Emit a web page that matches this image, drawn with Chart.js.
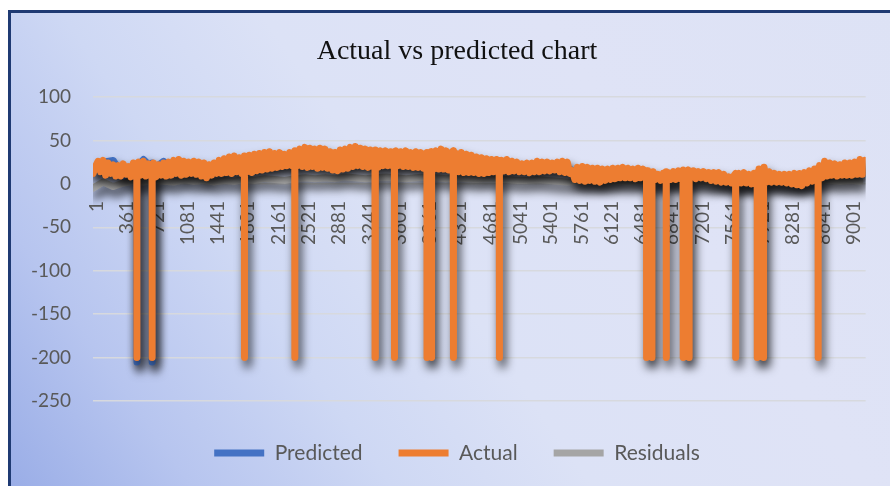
<!DOCTYPE html>
<html>
<head>
<meta charset="utf-8">
<script src="https://cdn.jsdelivr.net/npm/chart.js@4/dist/chart.umd.min.js"></script>
<style>
  html, body { margin: 0; padding: 0; background: #ffffff; }
  body { width: 890px; height: 486px; position: relative; overflow: hidden; }
  #frame {
    position: absolute; left: 8px; top: 10px; width: 900px; height: 500px;
    border-left: 3px solid #1f3a73; border-top: 3px solid #1f3a73;
    background: linear-gradient(55deg, #97abe6 0%, #b7c5ef 16%, #ced8f4 32%, #dce2f6 48%, #dfe3f6 70%, #dde2f5 100%);
  }
  #chart { position: absolute; left: 0; top: 0; }
</style>
</head>
<body>
<div id="frame"></div>
<canvas id="chart" width="890" height="486"></canvas>
<script>
// Row numbers shown on the horizontal axis
const xTickRows = [1, 361, 721, 1081, 1441, 1801, 2161, 2521, 2881, 3241, 3601, 3961, 4321,
  4681, 5041, 5401, 5761, 6121, 6481, 6841, 7201, 7561, 7921, 8281, 8641, 9001];
const lastRow = 9189;

// Actual: one reading every 30 rows, starting at row 1
const actualStep = 30;
const actualValues = [
  12, 20, 26, 14, 27, 10, 24, 12, 22, 9,
  21, 9, 23, 11, 20, 8, 24, 12, 25, 10,
  26, 9, 23, 12, 24, 8, 22, 10, 24, 9,
  25, 10, 27, 12, 28, 10, 26, 11, 25, 12,
  26, 11, 25, 9, 24, 7, 22, 10, 24, 12,
  27, 12, 29, 13, 31, 12, 32, 14, 30, 12,
  32, 14, 33, 13, 34, 15, 35, 16, 36, 17,
  37, 18, 35, 19, 36, 20, 34, 21, 36, 21,
  38, 21, 40, 20, 42, 19, 41, 20, 40, 18,
  41, 19, 40, 18, 37, 16, 36, 15, 39, 17,
  40, 18, 42, 20, 43, 21, 41, 20, 40, 19,
  39, 20, 39, 19, 38, 21, 38, 21, 37, 20,
  38, 21, 37, 20, 38, 20, 36, 19, 37, 19,
  36, 18, 35, 18, 37, 17, 38, 17, 40, 17,
  38, 16, 36, 15, 35, 14, 36, 13, 34, 13,
  33, 13, 31, 12, 30, 12, 29, 13, 28, 14,
  28, 14, 27, 15, 28, 14, 26, 15, 25, 14,
  23, 14, 24, 13, 24, 14, 26, 14, 25, 15,
  25, 15, 24, 16, 25, 14, 26, 13, 25, 12,
  15, 5, 19, 4, 20, 3, 19, 4, 18, 3,
  18, 2, 17, 4, 17, 5, 18, 6, 18, 7,
  19, 7, 18, 7, 17, 6, 18, 7, 17, 6,
  15, 6, 14, 5, 11, 4, 12, 4, 13, 5,
  14, 5, 15, 6, 16, 7, 16, 7, 15, 6,
  14, 7, 14, 6, 13, 4, 13, 3, 13, 2,
  11, 2, 8, 1, 9, 1, 12, 1, 13, 1,
  11, 0, 12, 1, 17, 1, 19, 2, 14, 2,
  12, 2, 11, 2, 11, 1, 11, 0, 12, -1,
  12, -2, 13, 1, 15, 3, 17, 4, 21, 7,
  26, 9, 24, 10, 23, 9, 22, 10, 24, 10,
  24, 10, 25, 11, 28, 11, 27
];
// Rows where the actual value drops out to -200, with the rows either side
const actualDropRows = [
  522, 523, 524,   703, 704, 705,   1802, 1803, 1804,   2400, 2401, 2402,
  3354, 3355, 3356,   3585, 3586, 3587,   3972, 3973, 4027, 4028,
  4284, 4285, 4286,   4833, 4834, 4835,   6583, 6584, 6647, 6648,
  6817, 6818, 6819,   7017, 7018, 7089, 7090,   7642, 7643, 7644,
  7899, 7900, 7974, 7975,   8623, 8624, 8625
];
const actualDropValues = [
  18, -200, 22,   20, -200, 12,   28, -200, 14,   33, -200, 20,
  38, -200, 22,   22, -200, 37,   36, -200, -200, 20,
  38, -200, 16,   27, -200, 14,   15, -200, -200, 8,
  14, -200, 6,   15, -200, -200, 7,   12, -200, 3,
  13, -200, -200, 2,   18, -200, 5
];

// Predicted: one reading every 120 rows, starting at row 1
const predictedStep = 120;
const predictedValues = [
  18, 25, 27, 9, 22, 28, 17, 26, 18, 19,
  18, 17, 16, 20, 22, 23, 24, 26, 27, 28,
  28, 30, 31, 30, 27, 28, 30, 30, 29, 29,
  29, 28, 28, 27, 27, 27, 25, 24, 23, 21,
  21, 20, 20, 19, 20, 20, 20, 19, 11, 11,
  10, 11, 12, 13, 12, 11, 9, 9, 10, 11,
  11, 10, 8, 6, 5, 7, 8, 8, 7, 6,
  6, 7, 12, 17, 17, 17, 18
];
const predictedDropRows = [522, 523, 524, 703, 704, 705];
const predictedDropValues = [22, -205, 20, 18, -205, 24];

// Residuals: one reading every 120 rows, starting at row 1
const residualStep = 120;
const residualValues = [
  -5, 2, -3, 1, 3, 2, 4, 3, 2, 5,
  3, 4, 2, 4, 3, 5, 4, 6, 5, 4,
  6, 7, 6, 7, 6, 8, 7, 6, 7, 8,
  7, 6, 7, 8, 7, 6, 7, 6, 5, 6,
  5, 5, 4, 4, 5, 4, 3, 2, 3, 2,
  3, 2, 3, 2, 3, 1, 2, 3, 2, 3,
  2, 1, 2, 1, 0, 2, 1, 2, 1, 0,
  1, 2, 3, 4, 3, 4, 3
];

// Merge evenly spaced readings with extra rows into {x, y} points sorted by row
function toPoints(step, values, extraRows, extraValues) {
  const pts = values.map((v, i) => ({ x: 1 + i * step, y: v }));
  (extraRows || []).forEach((r, i) => pts.push({ x: r, y: extraValues[i] }));
  return pts.sort((a, b) => a.x - b.x);
}

const COLORS = { predicted: '#4472C4', actual: '#ED7D31', residuals: '#A5A5A5' };
const TEXT = '#595959';
const FONT = 'Lato';

// Dark drop shadow beneath every series line
const lineShadow = {
  id: 'lineShadow',
  beforeDatasetDraw(chart) {
    const c = chart.ctx;
    c.save();
    c.shadowColor = 'rgba(0, 0, 0, 0.75)';
    c.shadowBlur = 10;
    c.shadowOffsetX = 3;
    c.shadowOffsetY = 7;
  },
  afterDatasetDraw(chart) {
    chart.ctx.restore();
  }
};

new Chart(document.getElementById('chart'), {
  type: 'line',
  data: {
    datasets: [
      {
        label: 'Predicted',
        data: toPoints(predictedStep, predictedValues, predictedDropRows, predictedDropValues),
        borderColor: COLORS.predicted, backgroundColor: COLORS.predicted,
        order: 1
      },
      {
        label: 'Actual',
        data: toPoints(actualStep, actualValues, actualDropRows, actualDropValues),
        borderColor: COLORS.actual, backgroundColor: COLORS.actual,
        order: 0
      },
      {
        label: 'Residuals',
        data: toPoints(residualStep, residualValues),
        borderColor: COLORS.residuals, backgroundColor: COLORS.residuals,
        order: 2
      }
    ]
  },
  options: {
    responsive: false,
    animation: false,
    events: [],
    layout: { padding: { left: 41, right: 17, top: 0, bottom: 12.5 } },
    elements: {
      point: { radius: 0, hoverRadius: 0 },
      line: { borderWidth: 7, tension: 0, borderJoinStyle: 'round', borderCapStyle: 'round', fill: false }
    },
    scales: {
      x: {
        type: 'linear',
        min: 1,
        max: lastRow,
        position: { y: 0 },
        z: 1,
        grid: { display: false, drawTicks: false },
        border: { display: false },
        afterBuildTicks(scale) {
          scale.ticks = xTickRows.map(v => ({ value: v }));
        },
        ticks: {
          autoSkip: false,
          minRotation: 90,
          maxRotation: 90,
          padding: 17,
          labelOffset: 4,
          color: TEXT,
          font: { family: FONT, size: 19 },
          callback: v => String(v)
        }
      },
      y: {
        min: -250,
        max: 100,
        afterFit(scale) {
          scale.width = 52;
          // let the longer labels run past the narrow axis box instead of clipping them
          scale._computeLabelArea = () => undefined;
        },
        grid: { color: '#d7d9de', lineWidth: 1.5, drawTicks: false },
        border: { display: false },
        ticks: {
          stepSize: 50,
          padding: 22,
          color: TEXT,
          font: { family: FONT, size: 19 }
        }
      }
    },
    plugins: {
      title: {
        display: true,
        text: 'Actual vs predicted chart',
        color: '#111111',
        font: { family: 'Liberation Serif', size: 28, weight: 'normal' },
        padding: { top: 35, bottom: 28.4 }
      },
      legend: {
        position: 'bottom',
        title: { display: true, text: '', font: { size: 1 }, padding: { top: 4.3, bottom: 0 } },
        labels: {
          boxWidth: 50,
          boxHeight: 7,
          padding: 36,
          color: TEXT,
          font: { family: FONT, size: 21 },
          generateLabels(chart) {
            return chart.data.datasets.map((ds, i) => ({
              text: ds.label,
              fillStyle: ds.borderColor,
              strokeStyle: ds.borderColor,
              lineWidth: 0,
              hidden: false,
              fontColor: TEXT,
              datasetIndex: i
            }));
          }
        }
      },
      tooltip: { enabled: false }
    }
  },
  plugins: [lineShadow]
});
</script>
</body>
</html>
